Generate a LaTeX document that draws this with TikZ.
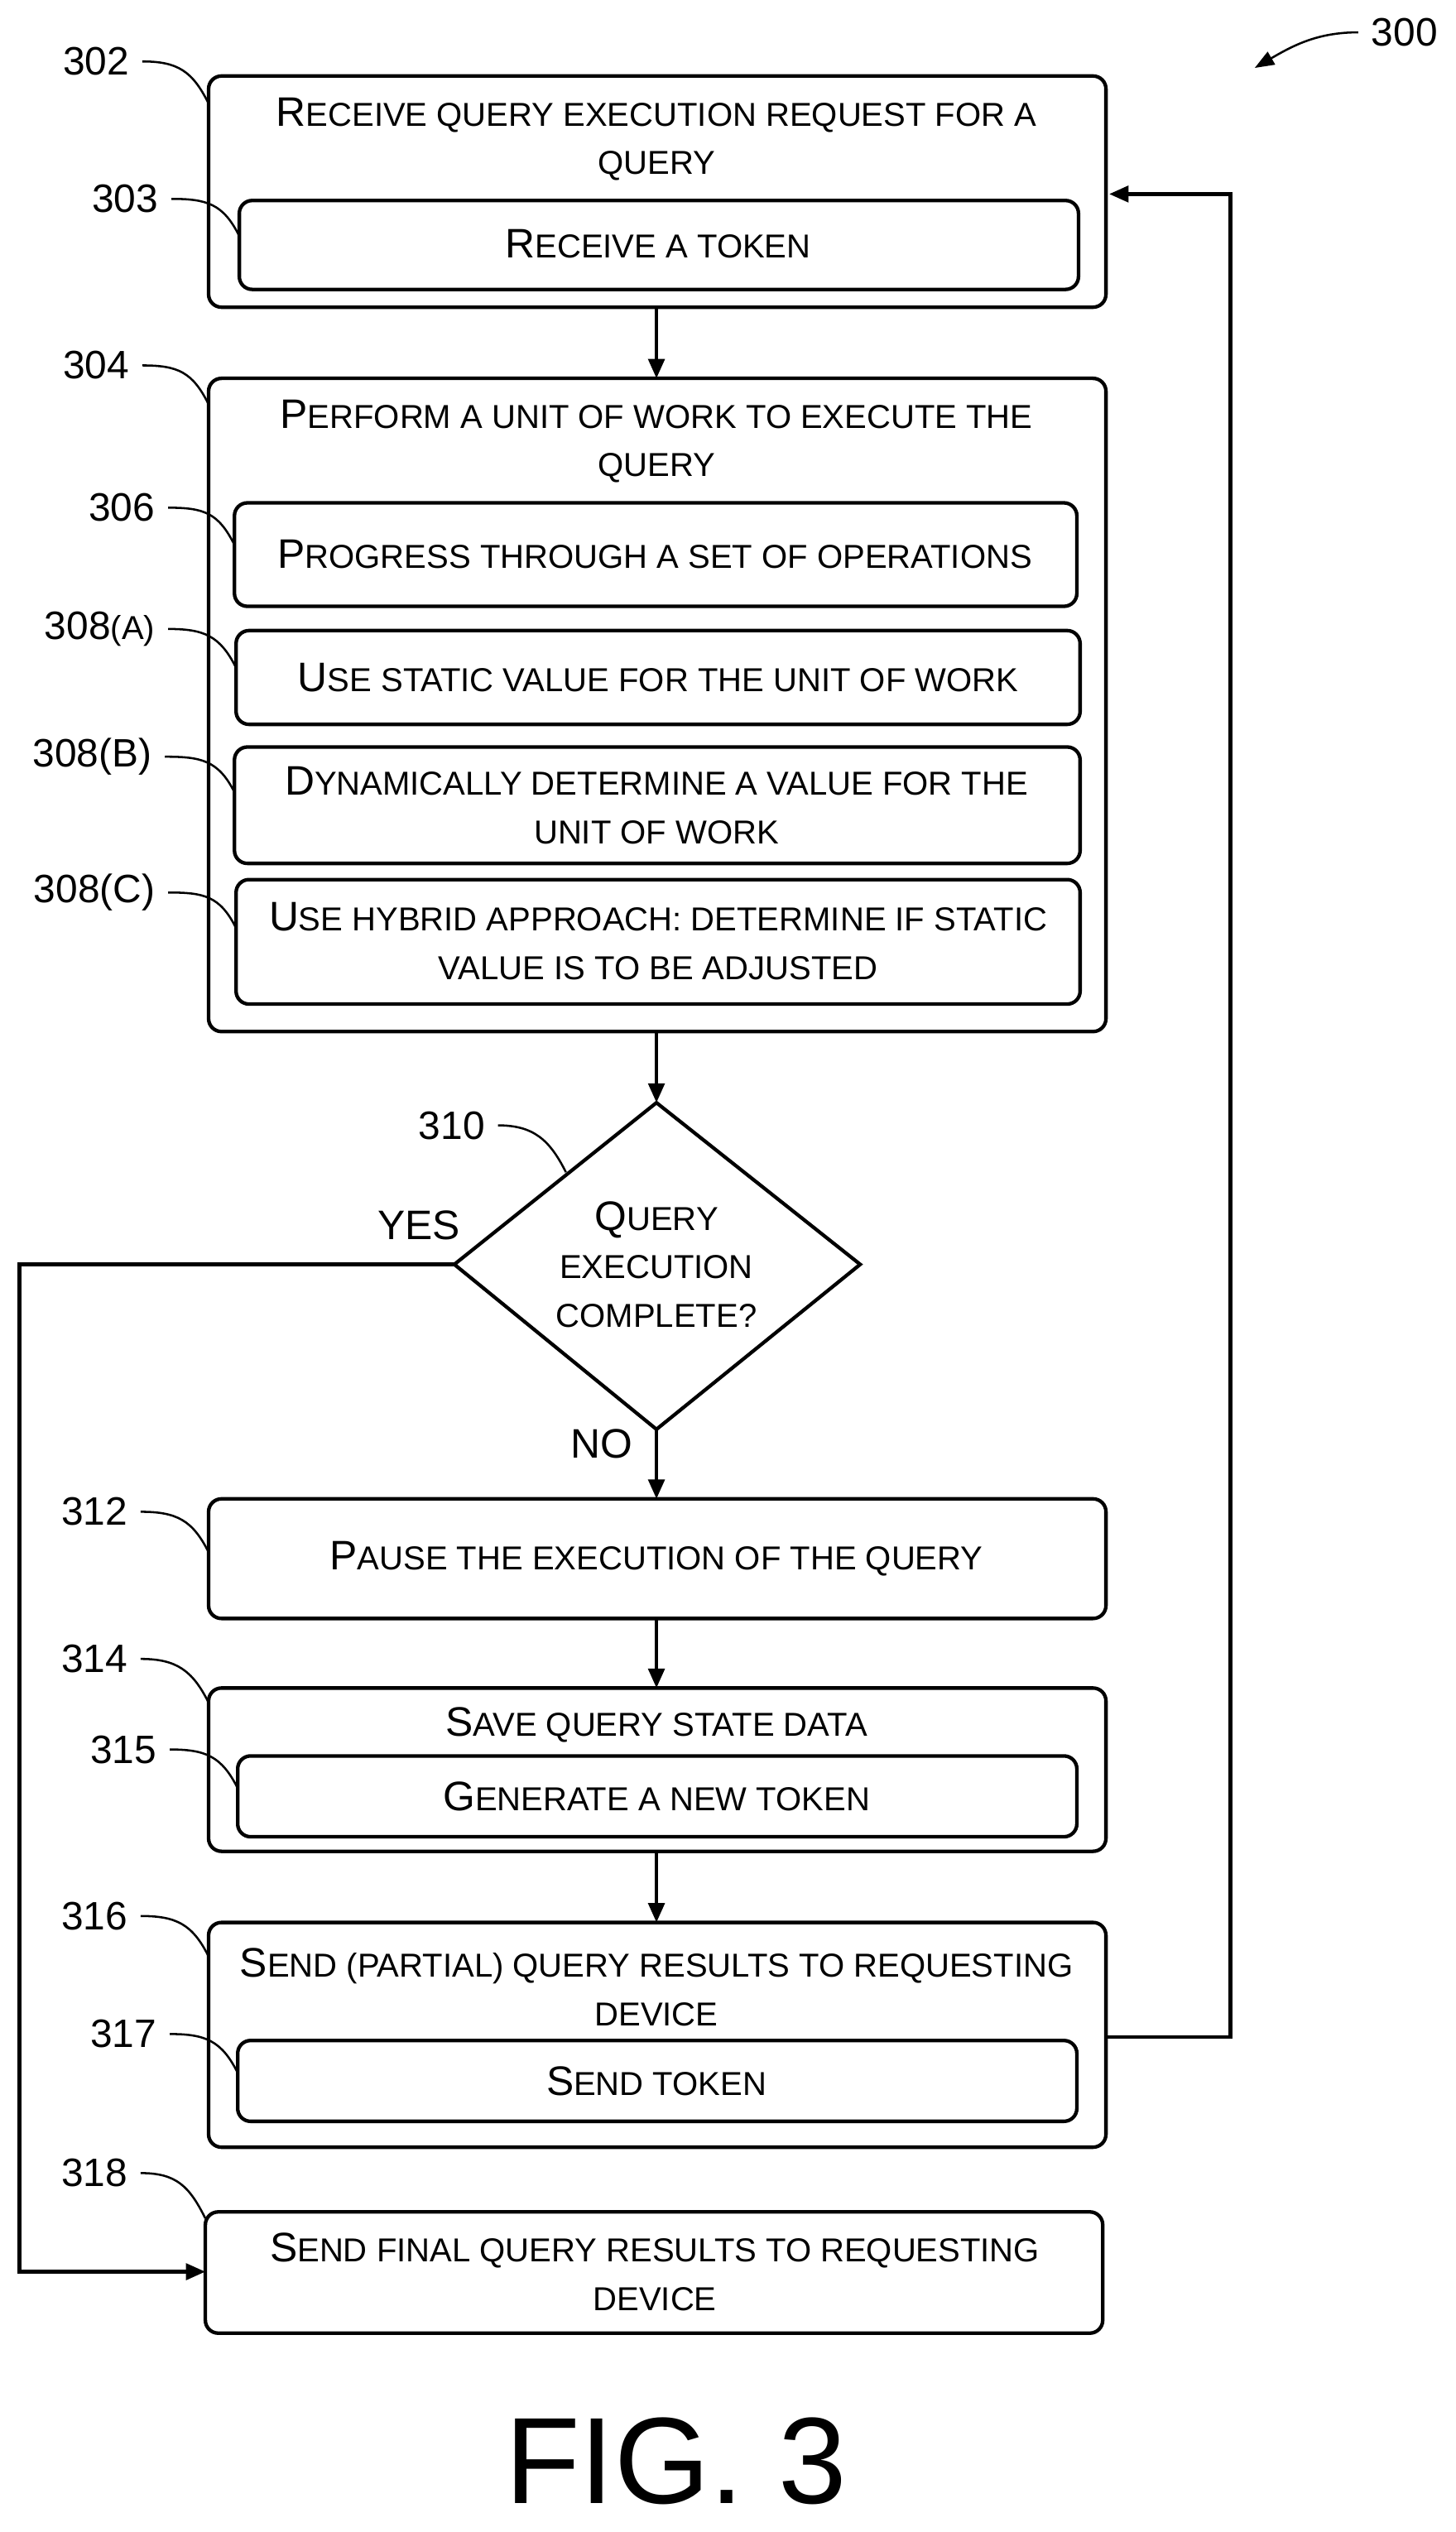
\documentclass[tikz,border=0pt]{standalone}
\usepackage{fontspec}
\setmainfont{Liberation Sans}
\usetikzlibrary{arrows.meta,shapes.geometric}
\newcommand\sm[1]{{\fontsize{20.5}{23}\selectfont #1}}
\begin{document}
\begin{tikzpicture}[x=1pt,y=-1pt,
  box/.style={draw,line width=2.2pt,rounded corners=8pt},
  txt/.style={font=\fontsize{25.5}{30}\selectfont,align=center,inner sep=0},
  lab/.style={font=\fontsize{24.5}{28}\selectfont,anchor=east,inner sep=0},
  ld/.style={line width=1.3pt},
  ar/.style={line width=2.2pt,-{Triangle[length=12pt,width=10pt]}}]
\useasboundingbox (0,0) rectangle (900,1566);
% 302
\draw[box] (129,47) rectangle (684,190);
\node[txt] (t302) at (406,86) {R\sm{ECEIVE QUERY EXECUTION REQUEST FOR A}\\\sm{QUERY}};
\draw[box] (148,124) rectangle (667,179);
\node[txt] (t303) at (407,151) {R\sm{ECEIVE A TOKEN}};
\coordinate (b302) at (406,190); \coordinate (t304) at (406,234);
\draw[ar] (b302) -- (t304);
% 304
\draw[box] (129,234) rectangle (684,638);
\node[txt] (h304) at (406,273) {P\sm{ERFORM A UNIT OF WORK TO EXECUTE THE}\\\sm{QUERY}};
\draw[box] (145,311) rectangle (666,375);
\node[txt] (t306) at (405,343) {P\sm{ROGRESS THROUGH A SET OF OPERATIONS}};
\draw[box] (146,390) rectangle (668,448);
\node[txt] (t308a) at (407,419) {U\sm{SE STATIC VALUE FOR THE UNIT OF WORK}};
\draw[box] (145,462) rectangle (668,534);
\node[txt] (t308b) at (406,498) {D\sm{YNAMICALLY DETERMINE A VALUE FOR THE}\\\sm{UNIT OF WORK}};
\draw[box] (146,544) rectangle (668,621);
\node[txt] (t308c) at (407,582) {U\sm{SE HYBRID APPROACH: DETERMINE IF STATIC}\\\sm{VALUE IS TO BE ADJUSTED}};
\coordinate (b304) at (406,638);
% diamond
\draw[line width=2.2pt] (406,682) coordinate (dt) -- (532,782) -- (406,884) coordinate (db) -- (281,782) coordinate (dl) -- cycle;
\draw[ar] (b304) -- (dt);
\node[txt] (tq) at (406,782) {Q\sm{UERY}\\\sm{EXECUTION}\\\sm{COMPLETE?}};
\node[txt] (yes) at (259,758) {YES};
\node[txt] (no) at (372,893) {NO};
% 312
\draw[box] (129,927) rectangle (684,1001);
\node[txt] (t312) at (406,964) {P\sm{AUSE THE EXECUTION OF THE QUERY}};
\coordinate (t312t) at (406,927);
\draw[ar] (db) -- (t312t);
\coordinate (b312) at (406,1001); \coordinate (t314) at (406,1044);
\draw[ar] (b312) -- (t314);
% 314
\draw[box] (129,1044) rectangle (684,1145);
\node[txt] (h314) at (406,1067) {S\sm{AVE QUERY STATE DATA}};
\draw[box] (147,1086) rectangle (666,1136);
\node[txt] (t315) at (406,1111) {G\sm{ENERATE A NEW TOKEN}};
\coordinate (b314) at (406,1145); \coordinate (t316) at (406,1189);
\draw[ar] (b314) -- (t316);
% 316
\draw[box] (129,1189) rectangle (684,1328);
\node[txt] (h316) at (406,1229) {S\sm{END (PARTIAL) QUERY RESULTS TO REQUESTING}\\\sm{DEVICE}};
\draw[box] (147,1262) rectangle (666,1312);
\node[txt] (t317) at (406,1287) {S\sm{END TOKEN}};
% loop back
\coordinate (r316) at (684,1260); \coordinate (r302) at (686,120);
\draw[ar] (r316) -- (761,1260) -- (761,120) -- (r302);
% 318
\draw[box] (127,1368) rectangle (682,1443);
\node[txt] (t318) at (405,1405) {S\sm{END FINAL QUERY RESULTS TO REQUESTING}\\\sm{DEVICE}};
\coordinate (l318) at (127,1405);
\draw[ar] (dl) -- (12,782) -- (12,1405) -- (l318);
% labels
\foreach \t/\x/\y/\ex/\ey in {302/80/38/129/64, 303/98/123/148/146, 304/80/226/129/250, 306/96/314/145/337, 312/79/935/129/960, 314/79/1026/129/1053, 315/97/1082/147/1106, 316/79/1185/129/1210, 317/97/1258/147/1282, 318/79/1344/127/1372, 310/300/696/350/725}{
  \node[lab] (L\t) at (\x,\y) {\t};
  \draw[ld] (\x+8,\y) .. controls (\x+30,\y) and (\ex-10,\ey-20) .. (\ex,\ey);
}
\node[lab] (L308a) at (96,389) {308\sm{(A)}};
\draw[ld] (104,389) .. controls (126,389) and (136,393) .. (146,413);
\node[lab] (L308b) at (94,468) {308(B)};
\draw[ld] (102,468) .. controls (124,468) and (135,470) .. (145,490);
\node[lab] (L308c) at (96,552) {308(C)};
\draw[ld] (104,552) .. controls (126,552) and (136,554) .. (146,574);
\node[lab,anchor=west] (L300) at (848,20) {300};
\draw[ld,-{Triangle[length=12pt,width=9pt]}] (840,20) .. controls (815,20) and (800,28) .. (776,42);
\node[txt,font=\fontsize{76}{80}\selectfont] (fig) at (418,1522) {FIG. 3};
\end{tikzpicture}
\end{document}
